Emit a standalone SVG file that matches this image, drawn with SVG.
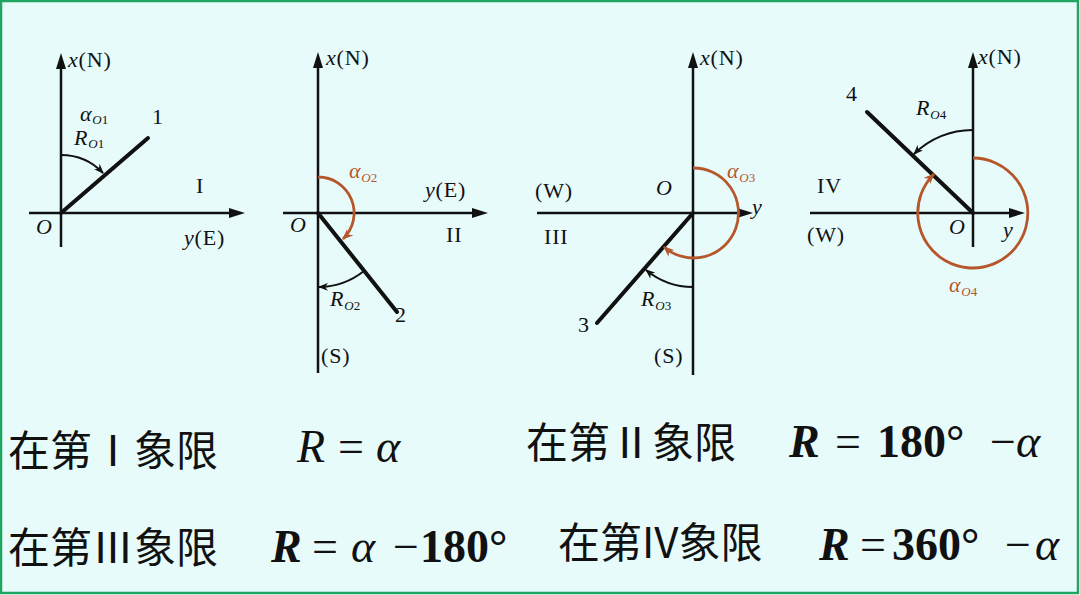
<svg xmlns="http://www.w3.org/2000/svg" width="1080" height="595" viewBox="0 0 1080 595">
<defs>
<style>
.axis{stroke:#111;stroke-width:2.5;fill:none;marker-end:url(#axArrow)}
.ray{stroke:#111;stroke-width:4;fill:none;stroke-linecap:round}
.arcB{stroke:#111;stroke-width:2;fill:none;marker-end:url(#arB)}
.arcO{stroke:#b5562b;stroke-width:2.8;fill:none;marker-end:url(#arO)}
.lbl{font-family:"Liberation Serif","Times New Roman",serif;font-size:22px;letter-spacing:0.8px;fill:#111}
.org{fill:#b5562b}
.sub{font-size:13px;letter-spacing:0}
.cjk{font-family:"Noto Sans CJK SC","Noto Sans",sans-serif;font-size:42px;fill:#111}
.math{font-family:"Liberation Serif","Times New Roman",serif;font-size:46px;fill:#111}
.it{font-style:italic}
.bd{font-weight:bold}
</style>
<marker id="axArrow" viewBox="0 0 16 10" refX="8" refY="5" markerWidth="16" markerHeight="10" markerUnits="userSpaceOnUse" orient="auto"><path d="M0,0 L16,5 L0,10 z" fill="#111"/></marker>
<marker id="arB" viewBox="0 0 10 8" refX="9" refY="4" markerWidth="10" markerHeight="8" markerUnits="userSpaceOnUse" orient="auto"><path d="M0,0 L10,4 L0,8 L3,4 z" fill="#111"/></marker>
<marker id="arO" viewBox="0 0 10 8" refX="9" refY="4" markerWidth="11" markerHeight="9" markerUnits="userSpaceOnUse" orient="auto"><path d="M0,0 L10,4 L0,8 L3,4 z" fill="#b5562b"/></marker>
</defs>
<rect x="1" y="1" width="1077" height="592" fill="#e7fbfb" stroke="#1fa55f" stroke-width="2.5"/>

<g id="quadrant1">
<path class="axis" d="M61,247 L61,61"/>
<path class="axis" d="M29,213 L237,213"/>
<path class="ray" d="M61,213 L148,138"/>
<path class="arcB" d="M61,155 A58,58 0 0 1 103,173"/>
<text class="lbl" x="68" y="67"><tspan class="it">x</tspan>(N)</text>
<text class="lbl" x="80" y="121"><tspan class="it">α</tspan><tspan class="sub" dy="3"><tspan class="it">O</tspan>1</tspan></text>
<text class="lbl" x="74" y="145"><tspan class="it">R</tspan><tspan class="sub" dy="3"><tspan class="it">O</tspan>1</tspan></text>
<text class="lbl" x="152" y="124">1</text>
<text class="lbl" x="196" y="193">I</text>
<text class="lbl it" x="36" y="234" font-size="23">O</text>
<text class="lbl" x="184" y="245"><tspan class="it">y</tspan>(E)</text>
</g>

<g id="quadrant2">
<path class="axis" d="M318,373 L318,60"/>
<path class="axis" d="M283,213 L480,213"/>
<path class="ray" d="M318,213 L397,312"/>
<path class="arcO" d="M318,177 A36,36 0 0 1 343,239"/>
<path class="arcB" d="M364,271 A74,74 0 0 1 319,287"/>
<text class="lbl" x="326" y="65"><tspan class="it">x</tspan>(N)</text>
<text class="lbl org" x="349" y="178"><tspan class="it">α</tspan><tspan class="sub" dy="4"><tspan class="it">O</tspan>2</tspan></text>
<text class="lbl" x="425" y="197"><tspan class="it">y</tspan>(E)</text>
<text class="lbl it" x="290" y="232" font-size="23">O</text>
<text class="lbl" x="446" y="242">II</text>
<text class="lbl" x="330" y="306"><tspan class="it">R</tspan><tspan class="sub" dy="4"><tspan class="it">O</tspan>2</tspan></text>
<text class="lbl" x="395" y="322">2</text>
<text class="lbl" x="321" y="363">(S)</text>
</g>

<g id="quadrant3">
<path class="axis" d="M693,375 L693,60"/>
<path class="axis" d="M537,213 L745,213"/>
<path class="ray" d="M693,213 L597,323"/>
<path class="arcO" d="M693,168 A45,45 0 1 1 664,247"/>
<path class="arcB" d="M693,287 A74,74 0 0 1 646,270"/>
<text class="lbl" x="700" y="65"><tspan class="it">x</tspan>(N)</text>
<text class="lbl org" x="727" y="178"><tspan class="it">α</tspan><tspan class="sub" dy="4"><tspan class="it">O</tspan>3</tspan></text>
<text class="lbl" x="535" y="198">(W)</text>
<text class="lbl it" x="656" y="195" font-size="23">O</text>
<text class="lbl it" x="752" y="214">y</text>
<text class="lbl" x="544" y="244">III</text>
<text class="lbl" x="641" y="306"><tspan class="it">R</tspan><tspan class="sub" dy="4"><tspan class="it">O</tspan>3</tspan></text>
<text class="lbl" x="578" y="332">3</text>
<text class="lbl" x="654" y="363">(S)</text>
</g>

<g id="quadrant4">
<path class="axis" d="M973,247 L973,60"/>
<path class="axis" d="M810,213 L1017,213"/>
<path class="ray" d="M973,213 L867,112"/>
<path class="arcO" d="M973,158 A55,55 0 1 1 934,174"/>
<path class="arcB" d="M973,130 A83,83 0 0 0 914,154"/>
<text class="lbl" x="978" y="64"><tspan class="it">x</tspan>(N)</text>
<text class="lbl" x="846" y="101">4</text>
<text class="lbl" x="916" y="115"><tspan class="it">R</tspan><tspan class="sub" dy="4"><tspan class="it">O</tspan>4</tspan></text>
<text class="lbl" x="817" y="193">IV</text>
<text class="lbl" x="807" y="242">(W)</text>
<text class="lbl it" x="949" y="234" font-size="23">O</text>
<text class="lbl it" x="1003" y="237">y</text>
<text class="lbl org" x="949" y="292"><tspan class="it">α</tspan><tspan class="sub" dy="4"><tspan class="it">O</tspan>4</tspan></text>
</g>

<g id="formulas">
<text class="cjk" x="8" y="466">在第Ⅰ象限</text>
<text class="math" y="462"><tspan class="it" x="297">R</tspan><tspan x="338">=</tspan><tspan class="it" x="376">α</tspan></text>

<text class="cjk" x="526" y="458">在第Ⅱ象限</text>
<text class="math" y="457"><tspan class="it bd" x="789">R</tspan><tspan x="835">=</tspan><tspan class="bd" x="877">180°</tspan><tspan x="990">−</tspan><tspan class="it" x="1016">α</tspan></text>

<text class="cjk" x="8" y="563">在第Ⅲ象限</text>
<text class="math" y="562"><tspan class="it bd" x="271">R</tspan><tspan x="312">=</tspan><tspan class="it" x="351">α</tspan><tspan x="393">−</tspan><tspan class="bd" x="420">180°</tspan></text>

<text class="cjk" x="558" y="558">在第IV象限</text>
<text class="math" y="560"><tspan class="it bd" x="819">R</tspan><tspan x="860">=</tspan><tspan class="bd" x="892">360°</tspan><tspan x="1005">−</tspan><tspan class="it" x="1035">α</tspan></text>
</g>
</svg>
